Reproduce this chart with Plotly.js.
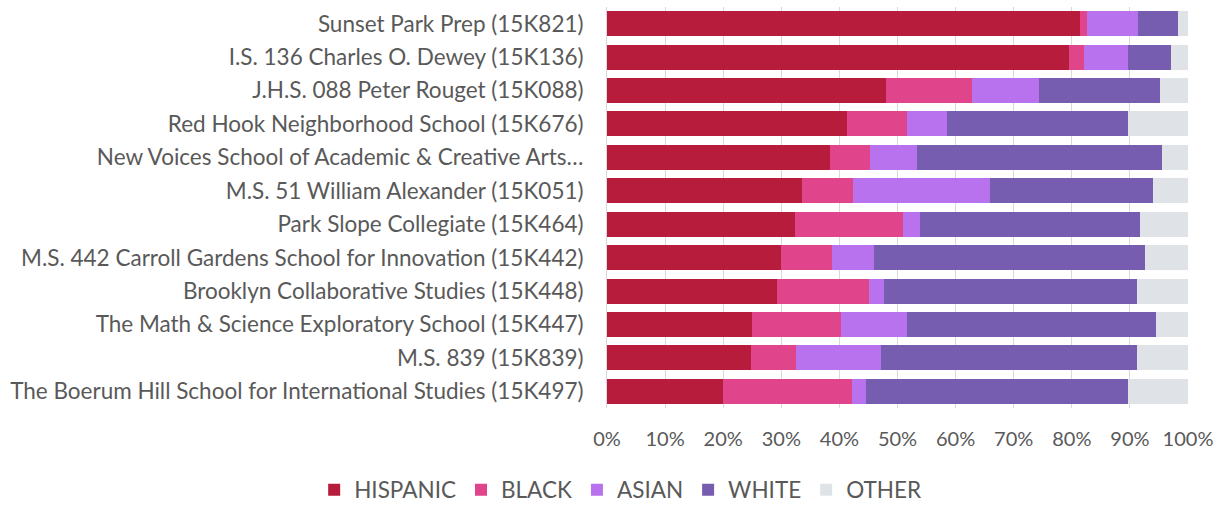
<!DOCTYPE html>
<html>
<head>
<meta charset="utf-8">
<script src="https://cdn.plot.ly/plotly-3.0.1.min.js"></script>
<style>html,body{margin:0;padding:0;background:#fff;}#chart{width:1223px;height:508px;}</style>
</head>
<body>
<div id="chart"></div>
<script>
const schools = [
  "Sunset Park Prep (15K821)",
  "I.S. 136 Charles O. Dewey (15K136)",
  "J.H.S. 088 Peter Rouget (15K088)",
  "Red Hook Neighborhood School (15K676)",
  "New Voices School of Academic & Creative Arts…",
  "M.S. 51 William Alexander (15K051)",
  "Park Slope Collegiate (15K464)",
  "M.S. 442 Carroll Gardens School for Innovation (15K442)",
  "Brooklyn Collaborative Studies (15K448)",
  "The Math & Science Exploratory School (15K447)",
  "M.S. 839 (15K839)",
  "The Boerum Hill School for International Studies (15K497)"
];
const hispanic = [81.4, 79.5, 48.1, 41.3, 38.4, 33.6, 32.3, 30.0, 29.2, 25.0, 24.8, 20.0];
const black    = [1.2, 2.6, 14.8, 10.4, 6.8, 8.8, 18.7, 8.7, 15.9, 15.2, 7.7, 22.2];
const asian    = [8.8, 7.6, 11.5, 6.8, 8.2, 23.6, 2.9, 7.2, 2.6, 11.5, 14.6, 2.4];
const white    = [6.8, 7.4, 20.7, 31.2, 42.2, 28.0, 37.9, 46.7, 43.5, 42.8, 44.1, 45.1];
const other    = [1.8, 2.9, 4.9, 10.3, 4.4, 6.0, 8.2, 7.4, 8.8, 5.5, 8.8, 10.3];
const seriesNames = ["HISPANIC", "BLACK", "ASIAN", "WHITE", "OTHER"];
const tickVals = [0, 10, 20, 30, 40, 50, 60, 70, 80, 90, 100];
const tickText = ["0%", "10%", "20%", "30%", "40%", "50%", "60%", "70%", "80%", "90%", "100%"];

const colors = ["#B71C3D", "#E0448A", "#B872EE", "#775DB0", "#DFE3E8"];
const values = [hispanic, black, asian, white, other];

const traces = values.map((v, i) => ({
  type: "bar",
  orientation: "h",
  name: seriesNames[i],
  y: schools,
  x: v,
  marker: {color: colors[i], line: {width: 0}},
  hoverinfo: "x+y+name"
}));

const labelFont = {family: "Lato, 'Open Sans', sans-serif", size: 22.5, color: "#595959"};
const tickFont = {family: "Lato, 'Open Sans', sans-serif", size: 20, color: "#595959"};

const layout = {
  width: 1223,
  height: 508,
  margin: {l: 607, r: 35, t: 7, b: 100, autoexpand: false},
  barmode: "stack",
  bargap: 0.25,
  paper_bgcolor: "#ffffff",
  plot_bgcolor: "#ffffff",
  font: labelFont,
  showlegend: true,
  xaxis: {
    range: [0, 100],
    tickvals: tickVals,
    ticktext: tickText,
    showgrid: true,
    gridcolor: "#D9D9D9",
    gridwidth: 1,
    zeroline: false,
    showline: false,
    ticks: "",
    ticklabelstandoff: 17,
    tickfont: tickFont,
    fixedrange: true
  },
  yaxis: {
    type: "category",
    categoryorder: "array",
    categoryarray: schools,
    autorange: "reversed",
    showline: true,
    linecolor: "#D9D9D9",
    linewidth: 1,
    ticks: "",
    ticklabelstandoff: 18,
    tickfont: labelFont,
    showgrid: false,
    fixedrange: true
  },
  legend: {
    orientation: "h",
    x: -0.504,
    xanchor: "left",
    y: -0.2045,
    yanchor: "middle",
    font: labelFont,
    itemwidth: 30,
    traceorder: "normal"
  }
};

Plotly.newPlot("chart", traces, layout, {displayModeBar: false, staticPlot: true});
</script>
</body>
</html>
